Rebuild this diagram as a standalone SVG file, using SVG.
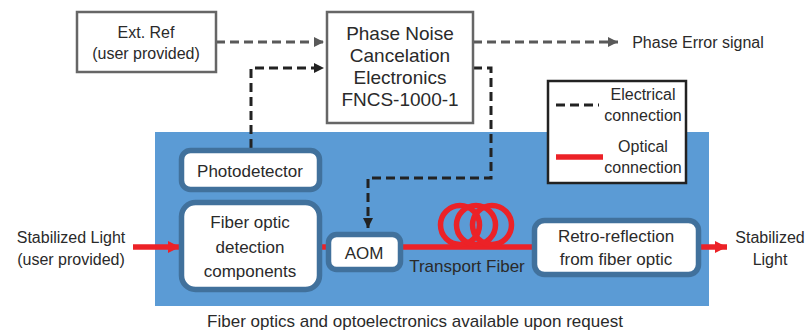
<svg xmlns="http://www.w3.org/2000/svg" width="809" height="331" viewBox="0 0 809 331">
<style>
text{font-family:"Liberation Sans",Arial,sans-serif;fill:#2a2a2a;text-anchor:middle}
.t16{font-size:16px}
.t17{font-size:17px}
.t19{font-size:19px}
.box{fill:#fff;stroke:#666;stroke-width:2.5}
.rbox{fill:#fff;stroke:#41719c;stroke-width:5.5}
.gdash{fill:none;stroke:#595959;stroke-width:3;stroke-dasharray:9 5}
.kdash{fill:none;stroke:#222;stroke-width:3;stroke-dasharray:9 5}
.red{fill:none;stroke:#ec2227;stroke-width:5.5}
</style>
<defs>
<marker id="ag" viewBox="0 0 10 10" refX="10" refY="5" markerWidth="10" markerHeight="10" markerUnits="userSpaceOnUse" orient="auto"><path d="M0,0 L10,5 L0,10 Z" fill="#595959"/></marker>
<marker id="ak" viewBox="0 0 10 10" refX="10" refY="5" markerWidth="10" markerHeight="10" markerUnits="userSpaceOnUse" orient="auto"><path d="M0,0 L10,5 L0,10 Z" fill="#222"/></marker>
<marker id="ar" viewBox="0 0 10 10" refX="10" refY="5" markerWidth="12" markerHeight="12" markerUnits="userSpaceOnUse" orient="auto"><path d="M0,0 L10,5 L0,10 Z" fill="#ec2227"/></marker>
</defs>
<rect id="panel" x="155" y="132" width="554" height="174" fill="#5b9bd5"/>
<g id="connectors">
<path class="gdash" d="M216,42 H324" marker-end="url(#ag)"/>
<path class="gdash" d="M473,42 H618" marker-end="url(#ag)"/>
<path class="kdash" d="M251,148 V68 H324" marker-end="url(#ak)"/>
<path class="kdash" d="M473,68 H491 V178 H368 V228" marker-end="url(#ak)"/>
<path class="red" d="M133,247 H180" stroke-width="3" marker-end="url(#ar)"/>
<path class="red" d="M701,247 H727" stroke-width="3" marker-end="url(#ar)"/>
<path class="red" d="M315,247 H540"/>
<circle class="red" cx="460" cy="225" r="19.5" stroke-width="5"/>
<circle class="red" cx="476" cy="225" r="19.5" stroke-width="5"/>
<circle class="red" cx="492" cy="225" r="19.5" stroke-width="5"/>
</g>
<g id="extref">
<rect class="box" x="77" y="12" width="139" height="60"/>
<text class="t16" x="146" y="38">Ext. Ref</text>
<text class="t16" x="146" y="59">(user provided)</text>
</g>
<g id="pnc">
<rect class="box" x="327" y="12" width="146" height="111"/>
<text class="t19" x="400" y="40">Phase Noise</text>
<text class="t19" x="400" y="62">Cancelation</text>
<text class="t19" x="400" y="84">Electronics</text>
<text class="t19" x="400" y="106">FNCS-1000-1</text>
</g>
<g id="phaseerror"><text class="t16" x="698" y="48">Phase Error signal</text></g>
<g id="legend">
<rect x="548" y="81" width="138" height="102" fill="#fff" stroke="#222" stroke-width="2.5"/>
<path class="kdash" d="M556,105 H599" stroke-dasharray="10 6"/>
<path class="red" d="M556,157 H603" stroke-width="3"/>
<text class="t16" x="643" y="100">Electrical</text>
<text class="t16" x="643" y="121">connection</text>
<text class="t16" x="643" y="152">Optical</text>
<text class="t16" x="643" y="173">connection</text>
</g>
<g id="photodetector">
<rect class="rbox" x="181.5" y="150.5" width="138" height="39" rx="9"/>
<text class="t17" x="250" y="177">Photodetector</text>
</g>
<g id="fiberoptic">
<rect class="rbox" x="181.5" y="202.5" width="138" height="87" rx="14"/>
<text class="t17" x="250" y="228">Fiber optic</text>
<text class="t17" x="250" y="253">detection</text>
<text class="t17" x="250" y="277">components</text>
</g>
<g id="aom">
<rect class="rbox" x="328.5" y="234.5" width="72" height="35" rx="8"/>
<text class="t17" x="364" y="259">AOM</text>
</g>
<g id="retro">
<rect class="rbox" x="534.5" y="220.5" width="164" height="54" rx="10"/>
<text class="t17" x="616" y="242">Retro-reflection</text>
<text class="t17" x="616" y="265">from fiber optic</text>
</g>
<g id="labels">
<text class="t17" x="467" y="272">Transport Fiber</text>
<text class="t16" x="71" y="243">Stabilized Light</text>
<text class="t16" x="71" y="265">(user provided)</text>
<text class="t16" x="770" y="243">Stabilized</text>
<text class="t16" x="770" y="265">Light</text>
<text class="t17" x="415" y="327">Fiber optics and optoelectronics available upon request</text>
</g>
</svg>
